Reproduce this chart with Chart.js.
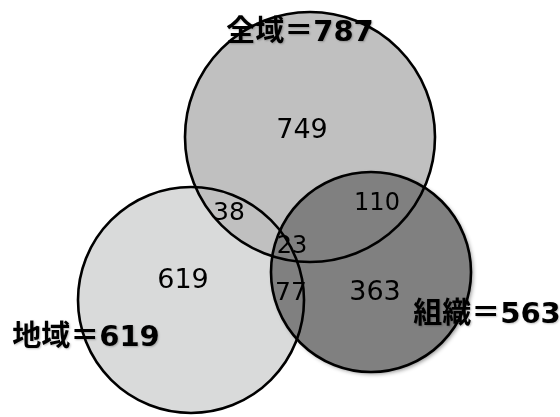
<!DOCTYPE html>
<html>
<head>
<meta charset="utf-8">
<script src="https://cdn.jsdelivr.net/npm/chart.js@4"></script>
<style>
  body { margin: 0; background: #fff; }
  #wrap { width: 560px; height: 417px; }
</style>
</head>
<body>
<div id="wrap"><canvas id="venn"></canvas></div>
<script>
// Données : ensembles et effectifs par zone
const setNames = ['全域', '地域', '組織'];
const setTotals = [787, 619, 563];
const regionKeys = ['全域', '地域', '組織', '全域+地域', '全域+組織', '地域+組織', '全域+地域+組織'];
const regionCounts = [749, 619, 363, 38, 110, 77, 23];

// Mise en page (repère en pixels, 560 x 417)
const circleX = [310, 191, 371];
const circleY = [137, 300, 272];
const circleR = [125, 113, 100];
const circleFill = ['#c0c0c0', '#d9dada', '#808080'];
const circleOrder = [2, 3, 1]; // 組織 au-dessus, puis 全域, puis 地域
const regionX = [302, 183, 375, 229, 377, 291, 292];
const regionY = [131, 281, 293, 213, 204, 293, 247];
const regionSize = [27, 27, 27, 25, 24, 25, 24];
const labelX = [300, 86, 487];
const labelY = [33, 338, 315];

const fontFamily = '"DejaVu Sans", "Noto Sans CJK JP", sans-serif';

const fillDatasets = setNames.map((name, i) => ({
  label: name,
  data: [{ x: circleX[i], y: circleY[i], r: circleR[i] }],
  backgroundColor: circleFill[i],
  borderWidth: 0,
  order: circleOrder[i],
  clip: false
}));

const outlineDataset = {
  label: 'contours',
  data: setNames.map((name, i) => ({ x: circleX[i], y: circleY[i], r: circleR[i] })),
  backgroundColor: 'rgba(0,0,0,0)',
  borderColor: '#000',
  borderWidth: 2.6,
  order: 0,
  clip: false
};

// Ombre légère sous le cercle 組織
const shadowPlugin = {
  id: 'shadowPlugin',
  beforeDatasetDraw(chart, args) {
    const ds = chart.data.datasets[args.index];
    if (ds.label === '組織') {
      const ctx = chart.ctx;
      ctx.save();
      ctx.shadowColor = 'rgba(0,0,0,0.45)';
      ctx.shadowBlur = 4;
      ctx.shadowOffsetX = 2;
      ctx.shadowOffsetY = 2;
    }
  },
  afterDatasetDraw(chart, args) {
    const ds = chart.data.datasets[args.index];
    if (ds.label === '組織') chart.ctx.restore();
  }
};

// Textes : effectifs des zones et noms des ensembles
const textPlugin = {
  id: 'textPlugin',
  afterDatasetsDraw(chart) {
    const ctx = chart.ctx;
    const xs = chart.scales.x;
    const ys = chart.scales.y;
    ctx.save();
    ctx.textAlign = 'center';
    ctx.textBaseline = 'middle';
    ctx.fillStyle = '#000';
    regionCounts.forEach((v, i) => {
      ctx.font = regionSize[i] + 'px ' + fontFamily;
      ctx.fillText(String(v), xs.getPixelForValue(regionX[i]), ys.getPixelForValue(regionY[i]));
    });
    ctx.font = 'bold 29px ' + fontFamily;
    ctx.shadowColor = 'rgba(0,0,0,0.25)';
    ctx.shadowBlur = 2;
    ctx.shadowOffsetX = 1;
    ctx.shadowOffsetY = 1;
    setNames.forEach((name, i) => {
      ctx.fillText(name + '＝' + setTotals[i], xs.getPixelForValue(labelX[i]), ys.getPixelForValue(labelY[i]));
    });
    ctx.restore();
  }
};

new Chart(document.getElementById('venn'), {
  type: 'bubble',
  data: { datasets: [outlineDataset, ...fillDatasets] },
  options: {
    responsive: true,
    maintainAspectRatio: false,
    animation: false,
    events: [],
    layout: { padding: 0, autoPadding: false },
    plugins: {
      legend: { display: false },
      tooltip: { enabled: false }
    },
    scales: {
      x: { type: 'linear', min: 0, max: 560, display: false },
      y: { type: 'linear', min: 0, max: 417, reverse: true, display: false }
    }
  },
  plugins: [shadowPlugin, textPlugin]
});
</script>
</body>
</html>
